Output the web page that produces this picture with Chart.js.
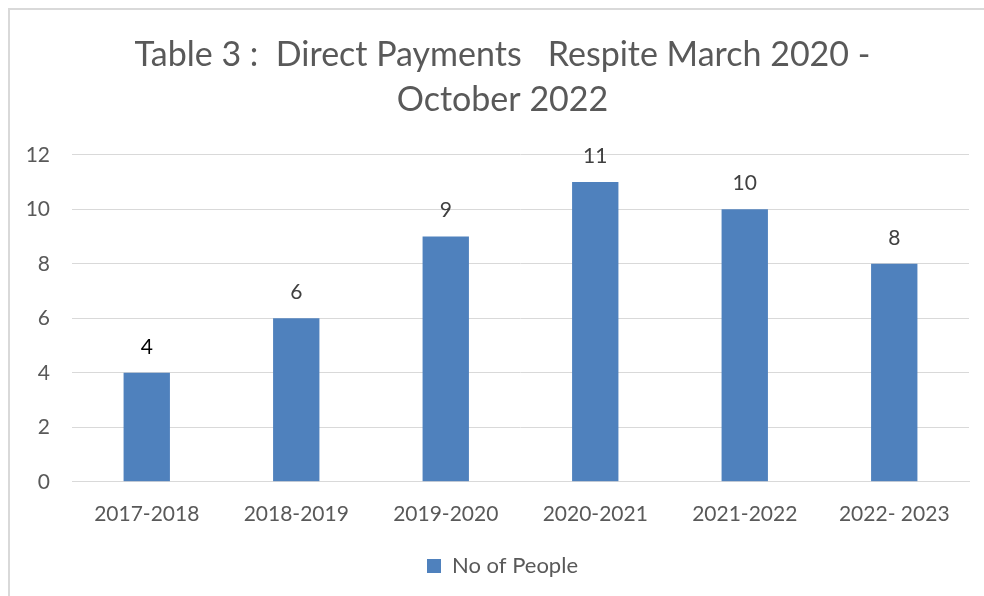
<!DOCTYPE html>
<html>
<head>
<meta charset="utf-8">
<script src="https://cdn.jsdelivr.net/npm/chart.js@4/dist/chart.umd.min.js"></script>
<style>
  html, body { margin: 0; padding: 0; background: #fff; }
  #frame { position: absolute; left: 8px; top: 8px; width: 1000px; height: 620px; border: 2px solid #d9d9d9; box-sizing: border-box; }
  #wrap { position: absolute; left: 0; top: 0; width: 984px; height: 596px; }
</style>
</head>
<body>
<div id="frame"></div>
<div id="wrap"><canvas id="respiteChart"></canvas></div>
<script>
const years = ['2017-2018', '2018-2019', '2019-2020', '2020-2021', '2021-2022', '2022- 2023'];
const noOfPeople = [4, 6, 9, 11, 10, 8];
const yTicks = [0, 2, 4, 6, 8, 10, 12];

const fontFamily = 'Lato, "Open Sans", sans-serif';

// draws the value above each bar
const valueLabels = {
    id: 'valueLabels',
    afterDatasetsDraw(chart) {
        const ctx = chart.ctx;
        const meta = chart.getDatasetMeta(0);
        ctx.save();
        ctx.font = '21px ' + fontFamily;
        ctx.textAlign = 'center';
        ctx.textBaseline = 'middle';
        meta.data.forEach((bar, i) => {
            ctx.fillStyle = i === 0 ? '#000000' : '#404040';
            ctx.fillText(String(noOfPeople[i]), bar.x, bar.y - 26);
        });
        ctx.restore();
    }
};

// title and legend sit a bit right of the canvas centre in the original
const shiftBlocks = {
    id: 'shiftBlocks',
    afterLayout(chart) {
        if (chart.titleBlock) chart.titleBlock.left += 26;
        if (chart.legend) chart.legend.left += 26;
    }
};

const ctx = document.getElementById('respiteChart').getContext('2d');
new Chart(ctx, {
    type: 'bar',
    data: {
        labels: years,
        datasets: [{
            label: 'No of People',
            data: noOfPeople,
            backgroundColor: '#4f81bd',
            borderWidth: 0,
            categoryPercentage: 1,
            barPercentage: 0.31
        }]
    },
    options: {
        responsive: true,
        maintainAspectRatio: false,
        animation: false,
        layout: { padding: { left: 10, right: 15, top: 0, bottom: 9 } },
        scales: {
            x: {
                grid: { display: false },
                border: { color: '#d9d9d9', width: 1 },
                ticks: { color: '#595959', font: { family: fontFamily, size: 21 }, padding: 11.5, maxRotation: 0 }
            },
            y: {
                min: 0,
                max: 12,
                afterBuildTicks: scale => { scale.ticks = yTicks.map(v => ({ value: v })); },
                afterFit: scale => { scale.width = 62; },
                grid: { color: '#d9d9d9', lineWidth: 1, drawTicks: false },
                border: { display: false },
                ticks: { color: '#595959', font: { family: fontFamily, size: 21 }, padding: 22 }
            }
        },
        plugins: {
            title: {
                display: true,
                text: ['Table 3 :  Direct Payments   Respite March 2020 -', 'October 2022'],
                color: '#595959',
                font: { family: fontFamily, size: 34, weight: 'normal', lineHeight: 1.32 },
                padding: { top: 33, bottom: 32 }
            },
            legend: {
                display: true,
                position: 'bottom',
                labels: {
                    color: '#595959',
                    font: { family: fontFamily, size: 22 },
                    boxWidth: 14,
                    boxHeight: 14,
                    padding: 17
                }
            },
            tooltip: { enabled: false }
        }
    },
    plugins: [valueLabels, shiftBlocks]
});
</script>
</body>
</html>
